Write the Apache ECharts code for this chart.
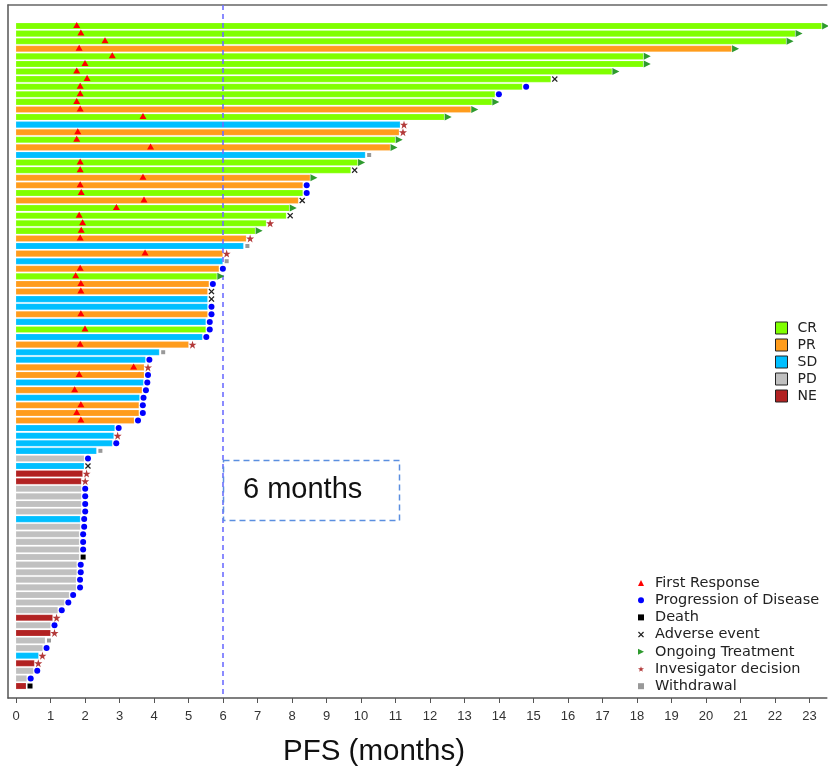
<!DOCTYPE html>
<html>
<head>
<meta charset="utf-8">
<script src="https://cdn.jsdelivr.net/npm/echarts@6/dist/echarts.min.js"></script>
<style>
html,body{margin:0;padding:0;background:#fff;}
#chart{width:828px;height:769px;}
</style>
</head>
<body>
<div id="chart"></div>
<script>
// ---- data (one entry per patient, top to bottom) ----
const pfs = [23.35,22.58,22.32,20.74,18.18,18.18,17.27,15.5,14.67,13.88,
  13.79,13.18,12.41,11.13,11.1,10.99,10.84,10.12,9.9,9.7,
  8.52,8.31,8.31,8.18,7.92,7.83,7.25,6.93,6.67,6.59,
  5.99,5.99,5.88,5.82,5.59,5.55,5.55,5.55,5.55,5.5,
  5.5,5.4,5.0,4.15,3.75,3.71,3.71,3.69,3.65,3.58,
  3.56,3.56,3.42,2.86,2.83,2.79,2.33,1.97,1.97,1.93,
  1.89,1.89,1.89,1.89,1.89,1.86,1.86,1.83,1.83,1.83,
  1.83,1.76,1.76,1.74,1.74,1.54,1.4,1.21,1.06,1.0,
  1.0,0.84,0.77,0.65,0.53,0.5,0.31,0.29];
const response = ['CR','CR','CR','PR','CR','CR','CR','CR','CR','CR',
  'CR','PR','CR','SD','PR','CR','PR','SD','CR','CR',
  'PR','PR','CR','PR','CR','CR','CR','CR','PR','SD',
  'PR','SD','PR','CR','PR','PR','SD','SD','PR','SD',
  'CR','SD','PR','SD','SD','PR','PR','SD','PR','SD',
  'PR','PR','PR','SD','SD','SD','SD','PD','SD','NE',
  'NE','PD','PD','PD','PD','SD','PD','PD','PD','PD',
  'PD','PD','PD','PD','PD','PD','PD','PD','NE','PD',
  'NE','PD','PD','SD','NE','PD','PD','NE'];
const endEvent = ['O','O','O','O','O','O','O','AE','PD','PD',
  'O','O','O','ID','ID','O','O','W','O','AE',
  'O','PD','PD','AE','O','AE','ID','O','ID','W',
  'ID','W','PD','O','PD','AE','AE','PD','PD','PD',
  'PD','PD','ID','W','PD','ID','PD','PD','PD','PD',
  'PD','PD','PD','PD','ID','PD','W','PD','AE','ID',
  'ID','PD','PD','PD','PD','PD','PD','PD','PD','PD',
  'D','PD','PD','PD','PD','PD','PD','PD','ID','PD',
  'ID','W','PD','ID','ID','PD','PD','D'];
const firstResponse = [1.76,1.88,2.58,1.83,2.79,2.0,1.76,2.06,1.86,1.86,
  1.76,1.86,3.68,null,1.79,1.76,3.9,null,1.86,1.86,
  3.68,1.86,1.89,3.71,2.91,1.83,1.93,1.89,1.86,null,
  3.74,null,1.86,1.73,1.88,1.88,null,null,1.88,null,
  2.0,null,1.86,null,null,3.41,1.83,null,1.7,null,
  1.88,1.76,1.88];
const responseCats = ['CR','PR','SD','PD','NE'];
const xTicks = [0,1,2,3,4,5,6,7,8,9,10,11,12,13,14,15,16,17,18,19,20,21,22,23];
const cutoff = 6;

// ---- styles ----
const respColor = {CR:'#80ff00', PR:'#ff9c1c', SD:'#00bfff', PD:'#c0c0c0', NE:'#b22222'};
const eventDefs = [
  {key:'FR', name:'First Response', symbol:'triangle', size:[7,6], color:'#ff0000'},
  {key:'PD', name:'Progression of Disease', symbol:'circle', size:6, color:'#0000ff'},
  {key:'D', name:'Death', symbol:'rect', size:5, color:'#000000'},
  {key:'AE', name:'Adverse event', symbol:'path://M0,1.5L1.5,0L5,3.5L8.5,0L10,1.5L6.5,5L10,8.5L8.5,10L5,6.5L1.5,10L0,8.5L3.5,5Z', size:6, color:'#222222'},
  {key:'O', name:'Ongoing Treatment', symbol:'path://M0,0L10,5L0,10Z', size:[7,7], color:'#2e9a2e'},
  {key:'ID', name:'Invesigator decision', symbol:'path://M5,0L6.2,3.6L10,3.6L7,5.9L8.1,9.5L5,7.3L1.9,9.5L3,5.9L0,3.6L3.8,3.6Z', size:8, color:'#b33a3a'},
  {key:'W', name:'Withdrawal', symbol:'rect', size:4, color:'#999999'}
];

const barSeries = responseCats.map(cat => ({
  name: cat,
  type: 'custom',
  xAxisIndex: 0, yAxisIndex: 0,
  itemStyle: {color: respColor[cat]},
  encode: {x: 0, y: 1},
  data: pfs.map((v, i) => response[i] === cat ? [v, i + 1] : null).filter(d => d),
  renderItem: function (params, api) {
    const row = api.value(1);
    const p0 = api.coord([0, row]);
    const p1 = api.coord([api.value(0), row]);
    const h = api.size([0, 1])[1] * 0.8;
    return {
      type: 'rect',
      shape: {x: p0[0], y: p0[1] - h / 2, width: p1[0] - p0[0], height: h},
      style: api.style({stroke: 'rgba(255,255,255,0.35)', lineWidth: 0.5})
    };
  },
  z: 2
}));

const markerSeries = eventDefs.map(def => {
  let data;
  if (def.key === 'FR') {
    data = firstResponse.map((v, i) => v == null ? null : [v, i + 1]).filter(d => d);
  } else {
    data = pfs.map((v, i) => endEvent[i] === def.key ? [v, i + 1] : null).filter(d => d);
  }
  return {
    name: def.name,
    type: 'scatter',
    symbol: def.symbol,
    symbolSize: def.size,
    symbolOffset: def.key === 'FR' ? [0, -1] : [4, 0],
    itemStyle: {color: def.color, opacity: 1},
    data: data,
    z: 5,
    silent: true
  };
});

// cut-off reference line
barSeries[0].markLine = {
  silent: true,
  symbol: 'none',
  label: {show: false},
  lineStyle: {color: '#6e6eff', type: [5, 4], width: 1.6},
  data: [{xAxis: cutoff}]
};

const chart = echarts.init(document.getElementById('chart'), null, {renderer: 'canvas'});
chart.setOption({
  animation: false,
  backgroundColor: '#ffffff',
  grid: {left: 8, right: 1.2, top: 5, bottom: 71, containLabel: false},
  xAxis: [{
    type: 'value',
    min: -0.232, max: 23.5,
    position: 'bottom',
    splitLine: {show: false},
    axisLine: {show: true, onZero: false, lineStyle: {color: '#555', width: 1.5}},
    axisTick: {show: true, length: 5, customValues: xTicks, lineStyle: {color: '#555'}},
    axisLabel: {show: true, customValues: xTicks, margin: 12, color: '#333', fontSize: 13,
      fontFamily: '"Liberation Sans Narrow", "Liberation Sans", Arial, sans-serif'}
  }, {
    type: 'value',
    min: -0.232, max: 23.5,
    position: 'top',
    splitLine: {show: false},
    axisLine: {show: true, onZero: false, lineStyle: {color: '#666', width: 1.5}},
    axisTick: {show: false},
    axisLabel: {show: false}
  }],
  yAxis: {
    type: 'value',
    inverse: true,
    min: -1.77, max: 89.58,
    splitLine: {show: false},
    axisLine: {show: true, onZero: false, lineStyle: {color: '#555', width: 1.5}},
    axisTick: {show: false},
    axisLabel: {show: false}
  },
  legend: [{
    data: responseCats.map(c => ({name: c, icon: 'rect'})),
    orient: 'vertical',
    left: 775, top: 321,
    padding: 0,
    itemWidth: 12, itemHeight: 12,
    itemGap: 3,
    itemStyle: {borderColor: '#222', borderWidth: 1},
    selectedMode: false,
    textStyle: {fontSize: 14, color: '#222', fontFamily: '"DejaVu Sans", Verdana, sans-serif', padding: [0,0,0,5]}
  }, {
    data: eventDefs.map(d => d.name),
    orient: 'vertical',
    left: 638, top: 575.5,
    padding: 0,
    itemWidth: 6, itemHeight: 6,
    itemGap: 2.2,
    selectedMode: false,
    textStyle: {fontSize: 14.5, color: '#222', fontFamily: '"DejaVu Sans", Verdana, sans-serif', padding: [0,0,0,6]}
  }],
  graphic: [{
    type: 'rect',
    shape: {x: 223.5, y: 460.5, width: 176, height: 60},
    style: {fill: 'none', stroke: '#5b8fe0', lineWidth: 1.5, lineDash: [6, 4]},
    z: 10
  }, {
    type: 'text',
    x: 243, y: 490,
    style: {text: '6 months', fontSize: 29, fill: '#111', fontFamily: '"Liberation Sans", Arial, sans-serif', textVerticalAlign: 'middle'},
    z: 10
  }, {
    type: 'text',
    x: 374, y: 752,
    style: {text: 'PFS (months)', fontSize: 29.5, fill: '#111', fontFamily: '"Liberation Sans", Arial, sans-serif', textAlign: 'center', textVerticalAlign: 'middle'},
    z: 10
  }],
  series: barSeries.concat(markerSeries)
});
</script>
</body>
</html>
